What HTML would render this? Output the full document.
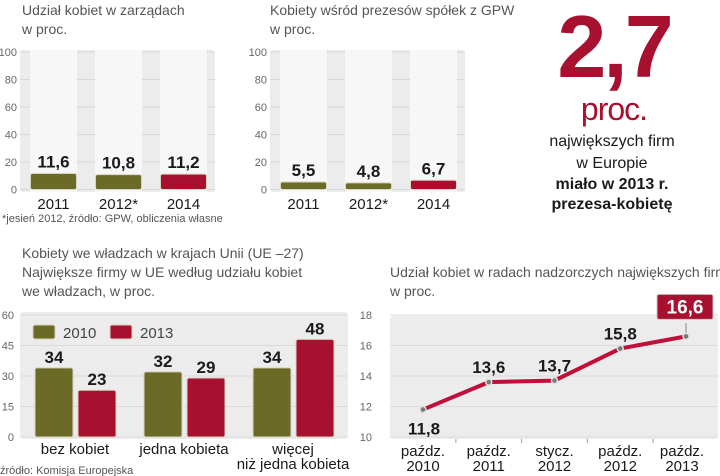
<!DOCTYPE html>
<html><head><meta charset="utf-8">
<style>
html,body{margin:0;padding:0;background:#fff;}
svg{display:block;font-family:"Liberation Sans","DejaVu Sans",sans-serif;}
.t{fill:#555;font-size:14px;}
.ax{fill:#666;font-size:11px;}
.val{fill:#1a1a1a;font-size:17px;font-weight:bold;}
.cat{fill:#1a1a1a;font-size:15px;}
</style></head><body>
<svg id="s" width="720" height="476" viewBox="0 0 720 476" xmlns="http://www.w3.org/2000/svg">
<text class="t" x="22" y="15">Udział kobiet w zarządach</text>
<text class="t" x="22" y="34">w proc.</text>
<text class="t" x="270" y="15">Kobiety wśród prezesów spółek z GPW</text>
<text class="t" x="270" y="34">w proc.</text>
<text x="2" y="222" style="fill:#555;font-size:11px">*jesień 2012, źródło: GPW, obliczenia własne</text>

<text x="614" y="77" text-anchor="middle" style="fill:#a8102f;font-size:88px;font-weight:bold;letter-spacing:-3px">2,7</text>
<text x="614" y="120" text-anchor="middle" style="fill:#a8102f;font-size:32px;letter-spacing:-1px">proc.</text>
<g text-anchor="middle" style="fill:#1a1a1a;font-size:16px">
<text x="612" y="146">największych firm</text>
<text x="612" y="168">w Europie</text>
<text x="612" y="189" font-weight="bold">miało w 2013 r.</text>
<text x="612" y="209" font-weight="bold">prezesa-kobietę</text>
</g>

<text class="t" x="22" y="258">Kobiety we władzach w krajach Unii (UE –27)</text>
<text class="t" x="22" y="277">Największe firmy w UE według udziału kobiet</text>
<text class="t" x="22" y="296">we władzach, w proc.</text>
<text x="0" y="474" style="fill:#555;font-size:11px">źródło: Komisja Europejska</text>

<text class="t" x="390" y="277">Udział kobiet w radach nadzorczych największych firm</text>
<text class="t" x="390" y="296">w proc.</text>
<g id="g"></g>
</svg>
<script>
const c1Cats=["2011","2012*","2014"];
const c1Vals=[11.6,10.8,11.2];
const c1Labels=["11,6","10,8","11,2"];
const c2Cats=["2011","2012*","2014"];
const c2Vals=[5.5,4.8,6.7];
const c2Labels=["5,5","4,8","6,7"];
const smallTicks=[0,20,40,60,80,100];
const c3Cats=[["bez kobiet"],["jedna kobieta"],["więcej","niż jedna kobieta"]];
const c3Series=["2010","2013"];
const c3V2010=[34,32,34];
const c3V2013=[23,29,48];
const c3Ticks=[0,15,30,45,60];
const c4Cats=[["paźdz.","2010"],["paźdz.","2011"],["stycz.","2012"],["paźdz.","2012"],["paźdz.","2013"]];
const c4Vals=[11.8,13.6,13.7,15.8,16.6];
const c4Labels=["11,8","13,6","13,7","15,8","16,6"];
const c4Ticks=[10,12,14,16,18];

const NS="http://www.w3.org/2000/svg";
const G=document.getElementById("g");
function el(t,a,txt,p){const e=document.createElementNS(NS,t);for(const k in a)e.setAttribute(k,a[k]);if(txt!=null)e.textContent=txt;(p||G).appendChild(e);return e;}
const OLIVE="#6b6a26",RED="#a8102f";

function small(x0,x1,cats,vals,labels,pfx,cols){
  const y=v=>189.5-v*1.375;
  el("rect",{x:x0,y:50,width:x1-x0,height:142,fill:"#ececec",rx:3});
  smallTicks.forEach(t=>{
    el("line",{x1:x0,x2:x1,y1:y(t),y2:y(t),stroke:"#d8d8d8"});
    const tx=el("text",{x:x0-3,y:y(t)+4,"text-anchor":"end",class:"ax"},String(t));
    
    
  });
  cats.forEach((c,i)=>{
    const cx=x0+10+i*65+23.5;
    el("rect",{x:cx-23.5,y:50,width:47,height:142,fill:"#f7f7f7"});
    const b=el("rect",{x:cx-23,y:y(vals[i]),width:46,height:y(0)-y(vals[i]),fill:cols[i],stroke:"#d9d4c0","stroke-width":1,rx:2});
    
    
    const v=el("text",{x:cx,y:y(vals[i])-6,"text-anchor":"middle",class:"val"},labels[i]);
    
    
    const l=el("text",{x:cx,y:209,"text-anchor":"middle",class:"cat"},c);
    
    
  });
}
small(20,215,c1Cats,c1Vals,c1Labels,"chart1",[OLIVE,OLIVE,RED]);
small(270,465,c2Cats,c2Vals,c2Labels,"chart2",[OLIVE,OLIVE,RED]);

(function(){
  const y=v=>437-v*122/60;
  el("rect",{x:20,y:312,width:328,height:127,fill:"#ececec",rx:4});
  c3Ticks.forEach(t=>{
    el("line",{x1:20,x2:348,y1:y(t),y2:y(t),stroke:"#dadada"});
    const tx=el("text",{x:14,y:y(t)+4,"text-anchor":"end",class:"ax"},String(t));
    
    
  });
  const lg=[[33,OLIVE],[110,RED]];
  c3Series.forEach((s,i)=>{
    const r=el("rect",{x:lg[i][0],y:325,width:22,height:14,fill:lg[i][1],stroke:"#d9d4c0",rx:2});
    
    
    const t=el("text",{x:lg[i][0]+30,y:338,style:"fill:#444;font-size:15px"},s);
    
    
  });
  c3Cats.forEach((c,i)=>{
    const gx=35+i*109;
    [[c3V2010[i],OLIVE,0],[c3V2013[i],RED,43]].forEach((d,j)=>{
      const b=el("rect",{x:gx+d[2],y:y(d[0]),width:38,height:y(0)-y(d[0]),fill:d[1],stroke:"#d9d4c0",rx:2});
      
      
      const v=el("text",{x:gx+d[2]+19,y:y(d[0])-5,"text-anchor":"middle",class:"val"},String(d[0]));
      
      
    });
    c.forEach((line,k)=>{
      const l=el("text",{x:gx+40,y:454+k*15,"text-anchor":"middle",class:"cat"},line);
      
      
    });
  });
})();

(function(){
  const y=v=>437-(v-10)*122/8;
  const x=i=>423+i*65.75;
  el("rect",{x:390,y:316,width:328,height:123,fill:"#ececec",rx:4});
  c4Ticks.forEach(t=>{
    el("line",{x1:390,x2:718,y1:y(t),y2:y(t),stroke:"#dadada"});
    const tx=el("text",{x:372,y:y(t)+4,"text-anchor":"end",class:"ax"},String(t));
    
    
  });
  const pts=c4Vals.map((v,i)=>x(i)+","+y(v)).join(" ");
  const pl=el("polyline",{points:pts,fill:"none",stroke:"#c0103a","stroke-width":4,"stroke-linejoin":"round"});
  
  
  const last=c4Vals.length-1;
  el("line",{x1:x(last),x2:x(last),y1:y(c4Vals[last]),y2:323,stroke:"#888"});
  c4Vals.forEach((v,i)=>{
    const p=el("circle",{cx:x(i),cy:y(v),r:3,fill:"#777",stroke:"#ddd","stroke-width":1.5});
    
    
    let lab;
    if(i===last){
      el("rect",{x:x(i)-29,y:y(v)-42,width:56,height:25,fill:RED,stroke:"#d9c0c0",rx:2});
      lab=el("text",{x:x(i)-1,y:y(v)-23,"text-anchor":"middle",style:"fill:#fff;font-size:19px;font-weight:bold"},c4Labels[i]);
    } else if(i===0){
      lab=el("text",{x:x(i)+1,y:y(v)+25,"text-anchor":"middle",class:"val"},c4Labels[i]);
    } else {
      lab=el("text",{x:x(i),y:y(v)-9,"text-anchor":"middle",class:"val"},c4Labels[i]);
    }
    
    
  });
  c4Cats.forEach((c,i)=>{
    if(i>0) el("line",{x1:(x(i)+x(i-1))/2,x2:(x(i)+x(i-1))/2,y1:439,y2:443,stroke:"#999"});
    c.forEach((line,k)=>{
      const l=el("text",{x:x(i)+(i===last?-4:0),y:456+k*15,"text-anchor":"middle",style:"fill:#1a1a1a;font-size:15px"},line);
      
      
    });
  });
})();
</script>
</body></html>
